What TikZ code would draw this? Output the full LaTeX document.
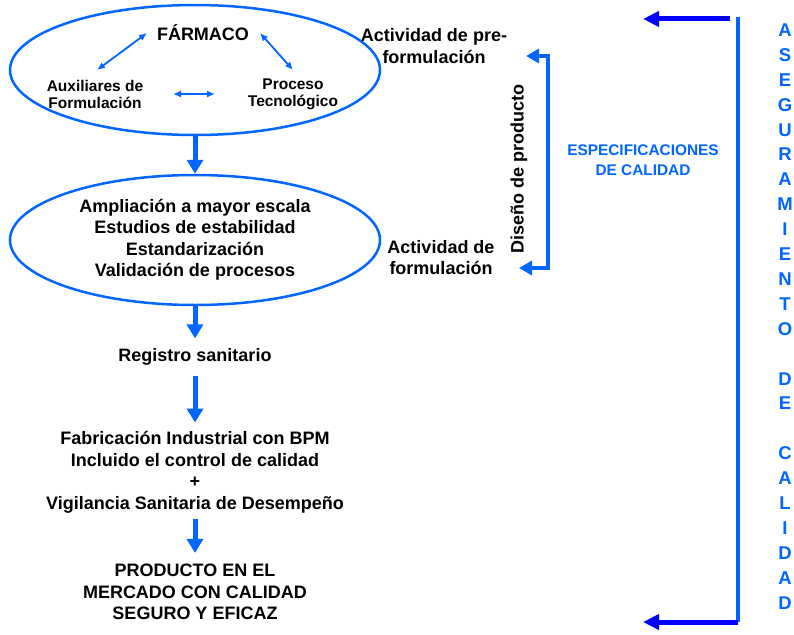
\documentclass[tikz,border=0pt]{standalone}
\usepackage{fontspec}
\setmainfont{Liberation Sans}
\usetikzlibrary{shapes.geometric,arrows.meta}
\definecolor{lblue}{RGB}{0,102,255}
\definecolor{dblue}{RGB}{0,0,255}
\begin{document}
\begin{tikzpicture}[x=1pt,y=-1pt,
  ell/.style={draw=lblue,line width=2.5pt,ellipse,minimum width=370pt,minimum height=130pt,inner sep=0pt},
  txt/.style={font=\fontsize{18}{21.5}\selectfont\bfseries,align=center,inner sep=0pt},
  smalltxt/.style={font=\fontsize{15.5}{17}\selectfont\bfseries,align=center,inner sep=0pt},
  spectxt/.style={font=\fontsize{15.4}{20}\selectfont\bfseries,align=center,inner sep=0pt,text=lblue},
  vtxt/.style={font=\fontsize{18.5}{24.9}\selectfont\bfseries,align=center,inner sep=0pt,text=lblue},
  flow/.style={draw=lblue,line width=5pt,-{Triangle[length=14pt,width=16pt]}},
  dbl/.style={draw=lblue,line width=1.8pt,{Latex[length=8pt,width=7pt]}-{Latex[length=8pt,width=7pt]}},
  sbrack/.style={draw=lblue,line width=4pt,{Triangle[length=13pt,width=14pt]}-{Triangle[length=13pt,width=14pt]}},
  bigarrow/.style={draw=dblue,line width=5pt,-{Triangle[length=16pt,width=15pt]}},
  bigline/.style={draw=lblue,line width=4pt},
]
\useasboundingbox (0,0) rectangle (794,634);

% top ellipse
\node[ell] (e1) at (195,70) {};
\node[txt] (farm) at (203,33) {FÁRMACO};
\node[smalltxt] (aux) at (95,94.5) {Auxiliares de\\Formulación};
\node[smalltxt] (proc) at (293,94.5) {Proceso\\Tecnológico};
\coordinate (d1a) at (97,70);
\coordinate (d1b) at (147,33);
\coordinate (d2a) at (260,33);
\coordinate (d2b) at (293,70);
\coordinate (d3a) at (173,94);
\coordinate (d3b) at (215,94);
\draw[dbl] (d1a) -- (d1b);
\draw[dbl] (d2a) -- (d2b);
\draw[dbl] (d3a) -- (d3b);

% second ellipse
\node[ell] (e2) at (195,240) {};
\node[txt] (steps) at (195,240) {Ampliación a mayor escala\\Estudios de estabilidad\\Estandarización\\Validación de procesos};

\node[txt] (reg) at (195,357) {Registro sanitario};
\node[txt] (fab) at (195,472.5) {Fabricación Industrial con BPM\\Incluido el control de calidad\\+\\Vigilancia Sanitaria de Desempeño};
\node[txt] (prod) at (195,592) {PRODUCTO EN EL\\MERCADO CON CALIDAD\\SEGURO Y EFICAZ};

\draw[flow] (e1.south) -- (e2.north);
\draw[flow,shorten >=10pt] (e2.south) -- (reg.north);
\draw[flow,shorten <=10pt,shorten >=9pt] (reg.south) -- (fab.north);
\draw[flow,shorten <=6pt,shorten >=11pt] (fab.south) -- (prod.north);

% right side
\node[txt] (pre) at (434,46) {Actividad de pre-\\formulación};
\node[txt] (form) at (441,257.5) {Actividad de\\formulación};
\coordinate (sb1) at (526,56);
\coordinate (sb2) at (548,56);
\coordinate (sb3) at (548,268);
\coordinate (sb4) at (519,268);
\draw[sbrack] (sb1) -- (sb2) -- (sb3) -- (sb4);
\node[txt,rotate=90] (dis) at (519,169) {Diseño de producto};

\node[spectxt] (spec) at (643,160) {ESPECIFICACIONES\\DE CALIDAD};

\coordinate (bt1) at (730,19);
\coordinate (bt2) at (643,19);
\coordinate (bv1) at (738,17);
\coordinate (bv2) at (738,622);
\coordinate (bb2) at (643,622);
\draw[bigline] (bv1) -- (bv2);
\draw[bigarrow] (bt1) -- (bt2);
\draw[bigarrow] (bv2) -- (bb2);

\node[vtxt,anchor=north] (aseg) at (785,23.5) {A\\S\\E\\G\\U\\R\\A\\M\\I\\E\\N\\T\\O\\[24.9pt]D\\E\\[24.9pt]C\\A\\L\\I\\D\\A\\D};
\end{tikzpicture}
\end{document}
